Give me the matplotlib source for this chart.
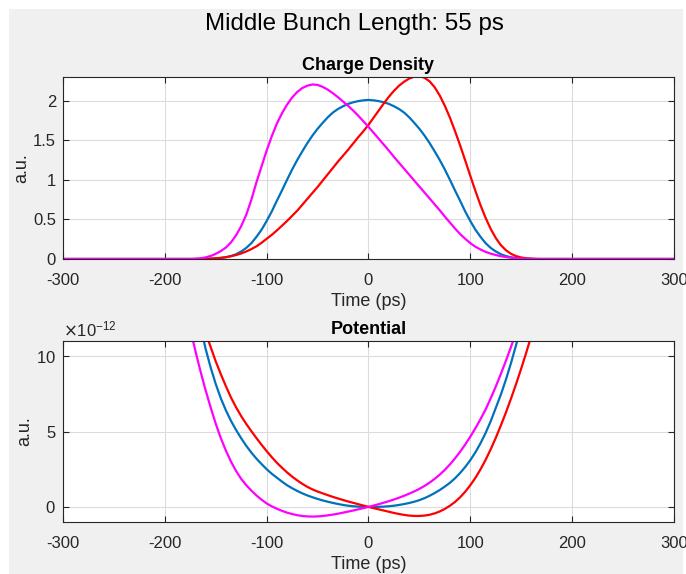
"""
Charge density and potential for three bunch shapes
(middle bunch length 55 ps), MATLAB-style figure.
"""

import matplotlib
matplotlib.use('Agg')
import matplotlib.pyplot as plt
from matplotlib.patches import Rectangle
from matplotlib.ticker import ScalarFormatter, FuncFormatter

plt.rcParams['font.family'] = ['Liberation Sans', 'DejaVu Sans']
plt.rcParams['axes.unicode_minus'] = False

#sampling grid (ps), 5 ps steps over the bunch region
t_grid = list(range(-180, 175, 5))
t_density = [-300, -250, -200] + t_grid + [200, 250, 300]
t_potential = t_grid
pad_zeros = [0, 0, 0]

#charge density (a.u.), values from -180 ps to 170 ps
dens_blue = [0, 0, 0, 0, 0.001, 0.003, 0.006, 0.012, 0.022, 0.037, 0.06,
             0.095, 0.14, 0.2, 0.28, 0.37, 0.48, 0.6, 0.735, 0.865, 1.0,
             1.13, 1.25, 1.36, 1.465, 1.56, 1.645, 1.72, 1.79, 1.85,
             1.895, 1.93, 1.96, 1.98, 1.995, 2.005, 2.01,
             2.005, 1.995, 1.98, 1.96, 1.93, 1.895, 1.85, 1.79, 1.72,
             1.645, 1.56, 1.465, 1.36, 1.25, 1.13, 1.0, 0.865, 0.735, 0.6,
             0.48, 0.37, 0.28, 0.2, 0.14, 0.095, 0.06, 0.037, 0.022, 0.012,
             0.006, 0.003, 0.001, 0, 0]
dens_red = [0, 0, 0, 0.001, 0.002, 0.005, 0.009, 0.015, 0.023, 0.035,
            0.05, 0.07, 0.095, 0.125, 0.16, 0.205, 0.255, 0.305, 0.36,
            0.42, 0.48, 0.545, 0.61, 0.685, 0.76, 0.835, 0.91, 0.99, 1.07,
            1.15, 1.23, 1.305, 1.38, 1.46, 1.54, 1.615, 1.695,
            1.785, 1.875, 1.965, 2.05, 2.125, 2.19, 2.24, 2.28, 2.305,
            2.31, 2.29, 2.245, 2.17, 2.065, 1.935, 1.785, 1.615, 1.435,
            1.245, 1.05, 0.86, 0.68, 0.52, 0.38, 0.265, 0.175, 0.11,
            0.065, 0.036, 0.019, 0.009, 0.004, 0.001, 0]
dens_magenta = [0, 0, 0.003, 0.008, 0.02, 0.038, 0.065, 0.1, 0.145, 0.21,
                0.3, 0.415, 0.56, 0.75, 0.97, 1.17, 1.37, 1.55, 1.71, 1.84,
                1.95, 2.04, 2.11, 2.16, 2.19, 2.205, 2.2, 2.175, 2.14,
                2.095, 2.045, 1.99, 1.935, 1.875, 1.81, 1.74, 1.67,
                1.595, 1.52, 1.445, 1.37, 1.29, 1.215, 1.14, 1.065, 0.99,
                0.915, 0.84, 0.765, 0.69, 0.615, 0.535, 0.46, 0.385, 0.315,
                0.255, 0.2, 0.155, 0.12, 0.09, 0.068, 0.05, 0.035, 0.024,
                0.016, 0.01, 0.006, 0.003, 0.0015, 0.0005, 0]

#potential in units of 1e-12 (a.u.), values from -180 ps to 170 ps
pot_scale = 1e-12
pot_blue = [17.3, 15.4, 13.6, 12.0, 10.5, 9.25, 8.15, 7.2, 6.4, 5.7, 5.1,
            4.55, 4.05, 3.6, 3.2, 2.84, 2.5, 2.2, 1.94, 1.68, 1.44, 1.24,
            1.06, 0.9, 0.76, 0.64, 0.53, 0.43, 0.345, 0.265, 0.195, 0.13,
            0.08, 0.045, 0.02, 0.005, 0,
            0.0, 0.005, 0.02, 0.045, 0.08, 0.13, 0.19, 0.26, 0.345, 0.45,
            0.58, 0.74, 0.92, 1.12, 1.35, 1.6, 1.9, 2.25, 2.65, 3.1, 3.62,
            4.22, 4.9, 5.68, 6.56, 7.45, 8.45, 9.55, 10.75, 12.05, 13.45,
            14.95, 16.55, 18.25]
pot_red = [16.6, 15.2, 13.9, 12.7, 11.6, 10.6, 9.65, 8.8, 8.0, 7.25, 6.6,
           6.02, 5.5, 5.02, 4.56, 4.12, 3.7, 3.3, 2.93, 2.6, 2.29, 2.01,
           1.76, 1.53, 1.33, 1.16, 1.02, 0.9, 0.78, 0.665, 0.56, 0.46,
           0.36, 0.27, 0.18, 0.09, 0,
           -0.08, -0.16, -0.24, -0.32, -0.4, -0.47, -0.53, -0.575, -0.6,
           -0.6, -0.575, -0.52, -0.43, -0.3, -0.13, 0.08, 0.33, 0.64,
           1.01, 1.44, 1.93, 2.49, 3.12, 3.82, 4.58, 5.4, 6.27, 7.19,
           8.16, 9.18, 10.25, 11.37, 12.54, 13.76]
pot_magenta = [13.3, 11.8, 10.35, 9.0, 7.75, 6.6, 5.52, 4.56, 3.73, 3.0,
               2.38, 1.86, 1.44, 1.08, 0.76, 0.48, 0.23, 0.04, -0.12,
               -0.26, -0.38, -0.47, -0.55, -0.6, -0.63, -0.64, -0.63, -0.6,
               -0.56, -0.51, -0.45, -0.38, -0.31, -0.24, -0.16, -0.08, 0,
               0.09, 0.18, 0.28, 0.38, 0.49, 0.61, 0.74, 0.88, 1.03, 1.2,
               1.39, 1.61, 1.86, 2.14, 2.46, 2.82, 3.22, 3.66, 4.14, 4.66,
               5.22, 5.82, 6.46, 7.2, 7.98, 8.82, 9.7, 10.62, 11.58, 12.58,
               13.62, 14.7, 15.82, 16.98]

x_ticks = [-300, -200, -100, 0, 100, 200, 300]

c_blue = '#0072BD'
c_red = '#FF0000'
c_magenta = '#FF00FF'
c_axis = '#262626'


def style_axes(ax):
    ax.set_facecolor('white')
    ax.grid(True, color='#dcdcdc', lw=0.8)
    ax.set_axisbelow(True)
    for sp in ax.spines.values():
        sp.set_color(c_axis)
        sp.set_linewidth(0.8)
    ax.tick_params(direction='in', length=4, width=0.8, colors=c_axis,
                   labelsize=12, top=True, right=True)
    ax.tick_params(axis='x', pad=10)
    ax.tick_params(axis='y', pad=5)
    ax.set_xlim(-300, 300)
    ax.set_xticks(x_ticks)
    ax.set_xlabel('Time (ps)', fontsize=13, color=c_axis, labelpad=4)
    ax.set_ylabel('a.u.', fontsize=13, color=c_axis, labelpad=2)


fig = plt.figure(figsize=(6.86, 5.74), dpi=100, facecolor='white')
#grey window area of the screenshot
fig.patches.append(Rectangle((9/686, 0), 674/686, 565/574,
                             transform=fig.transFigure,
                             facecolor='#F0F0F0', edgecolor='none',
                             zorder=-10))

ax1 = fig.add_axes([0.0918, 0.5488, 0.8907, 0.3171])
style_axes(ax1)
ax1.plot(t_density, pad_zeros + dens_blue + pad_zeros, color=c_blue, lw=1.6)
ax1.plot(t_density, pad_zeros + dens_red + pad_zeros, color=c_red, lw=1.6)
ax1.plot(t_density, pad_zeros + dens_magenta + pad_zeros, color=c_magenta,
         lw=1.6)
ax1.set_ylim(0, 2.3)
ax1.set_yticks([0, 0.5, 1, 1.5, 2])
ax1.yaxis.set_major_formatter(FuncFormatter(lambda v, p: '%g' % v))
ax1.set_title('Charge Density', fontsize=13, fontweight='bold',
              color='black', pad=5)

ax2 = fig.add_axes([0.0918, 0.0906, 0.8907, 0.3153])
style_axes(ax2)
ax2.plot(t_potential, [v*pot_scale for v in pot_blue], color=c_blue,
         lw=1.6)
ax2.plot(t_potential, [v*pot_scale for v in pot_red], color=c_red, lw=1.6)
ax2.plot(t_potential, [v*pot_scale for v in pot_magenta], color=c_magenta,
         lw=1.6)
ax2.set_ylim(-1*pot_scale, 11*pot_scale)
ax2.set_yticks([0, 5*pot_scale, 10*pot_scale])
fmt = ScalarFormatter(useMathText=True)
fmt.set_powerlimits((-12, -12))
ax2.yaxis.set_major_formatter(fmt)
ax2.yaxis.get_offset_text().set_fontsize(12)
ax2.yaxis.get_offset_text().set_color(c_axis)
ax2.set_title('Potential', fontsize=13, fontweight='bold', color='black',
              pad=5)

fig.text(0.517, 0.958, 'Middle Bunch Length: 55 ps', ha='center',
         va='center', fontsize=17.4, color='black')

fig.savefig('out.png', dpi=100)
